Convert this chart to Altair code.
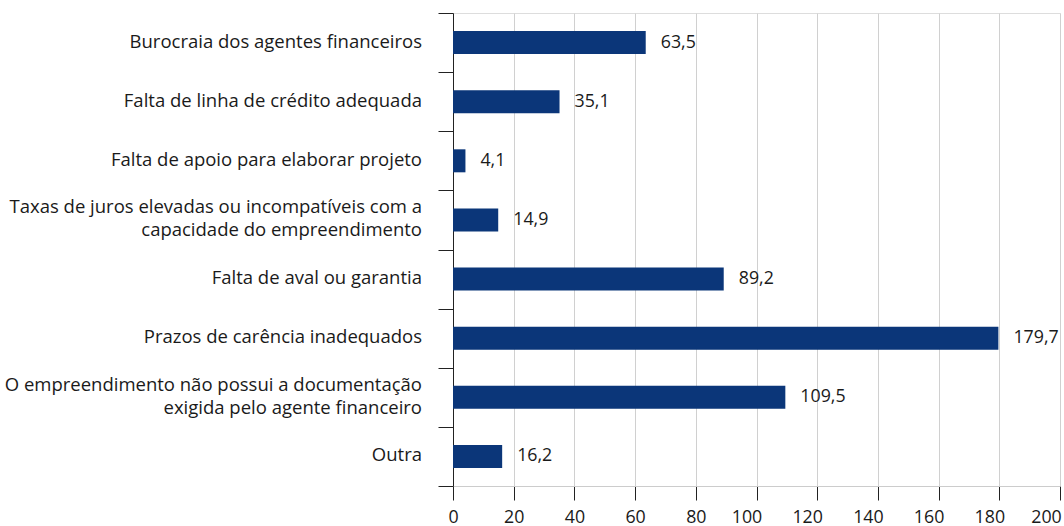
import altair as alt
import pandas as pd

categories = [
    "Burocraia dos agentes financeiros",
    "Falta de linha de crédito adequada",
    "Falta de apoio para elaborar projeto",
    "Taxas de juros elevadas ou incompatíveis com a\ncapacidade do empreendimento",
    "Falta de aval ou garantia",
    "Prazos de carência inadequados",
    "O empreendimento não possui a documentação\nexigida pelo agente financeiro",
    "Outra",
]
values = [63.5, 35.1, 4.1, 14.9, 89.2, 179.7, 109.5, 16.2]
x_ticks = [0, 20, 40, 60, 80, 100, 120, 140, 160, 180, 200]

df = pd.DataFrame({"cat": categories, "v": values})
df["lbl"] = [f"{v:.1f}".replace(".", ",") for v in values]
df["nlines"] = [c.count("\n") + 1 for c in categories]

FONT = "Open Sans"
FS = 17.8
CFS = 18.5
LH = 23
W, H = 607, 473
STEP = H / 8
BAR_H = 23

y_enc = alt.Y(
    "cat:N",
    sort=categories,
    scale=alt.Scale(paddingInner=0, paddingOuter=0),
    axis=alt.Axis(
        title=None,
        labels=False,
        tickBand="extent",
        tickSize=15,
        tickColor="#222222",
        domainColor="#222222",
        grid=False,
    ),
)

x_enc = alt.X(
    "v:Q",
    scale=alt.Scale(domain=[0, 200], nice=False),
    axis=alt.Axis(
        title=None,
        values=x_ticks,
        labelFont=FONT,
        labelFontSize=FS,
        labelColor="#1a1a1a",
        labelPadding=8,
        labelOffset={
            "condition": [
                {"test": "datum.value >= 200", "value": -14},
                {"test": "datum.value >= 100", "value": -10},
            ],
            "value": 0,
        },
        tickSize=14,
        tickColor="#222222",
        domainColor="#cccccc",
        gridColor="#d0d0d0",
        grid=True,
        labelFlush=False,
    ),
)

bars = alt.Chart(df).mark_bar(color="#0b3679", size=BAR_H).encode(x=x_enc, y=y_enc)

labels = alt.Chart(df).mark_text(
    align="left", baseline="middle", dx=15, font=FONT, fontSize=FS, color="#1a1a1a"
).encode(x="v:Q", y=alt.Y("cat:N", sort=categories), text="lbl:N")

cat_labels = (
    alt.Chart(df)
    .transform_calculate(off=f"{STEP / 2} - (datum.nlines - 1) * {LH} / 2 - 1")
    .mark_text(
        align="right",
        baseline="middle",
        lineBreak="\n",
        lineHeight=LH,
        font=FONT,
        fontSize=CFS,
        color="#1a1a1a",
    )
    .encode(
        x=alt.value(-31),
        y=alt.Y("cat:N", sort=categories),
        yOffset=alt.YOffset("off:Q", scale=None),
        text="cat:N",
    )
)

chart = (
    alt.layer(bars, labels, cat_labels)
    .properties(
        width=W,
        height=H,
        autosize=alt.AutoSizeParams(type="none"),
        padding={"left": 453, "top": 13, "right": 4, "bottom": 40},
    )
    .configure_view(stroke=None)
    .configure(background="white")
)

chart.save("out.html", embed_options={"renderer": "svg", "actions": False})
